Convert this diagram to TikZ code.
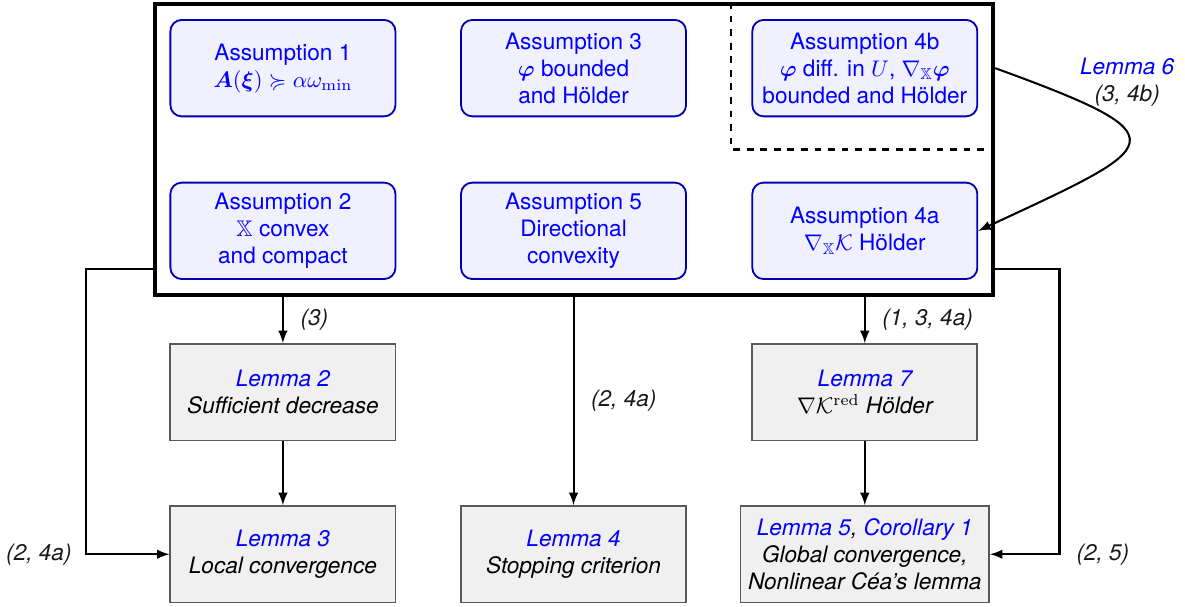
\documentclass[tikz,border=0pt]{standalone}
\usepackage{amsmath,amssymb}
\usepackage[no-math]{fontspec}
\setmainfont{TeX Gyre Heros}
\usetikzlibrary{fit,calc}

\tikzset{
  assum/.style={draw=blue!70!black, fill=blue!6, text=blue, thick, rounded corners=5pt,
    minimum width=3.5cm, minimum height=1.5cm, align=center},
  lemma/.style={draw=black!65, fill=black!6, thick, minimum width=3.5cm,
    minimum height=1.5cm, align=center, font=\itshape},
  dep/.style={font=\itshape, text=black!90},
  arr/.style={->, >=latex, line width=0.9pt},
}

\begin{document}
\begin{tikzpicture}
    \useasboundingbox[fill=white] (0, 0) rectangle (18.43, 9.44);

    % assumptions
    \node[assum] (a1) at (4.40, 8.38) {Assumption 1\\ $\boldsymbol{A}(\boldsymbol{\xi})\succcurlyeq\alpha\omega_{\min}$};
    \node[assum] (a3) at (8.92, 8.38) {Assumption 3\\ $\boldsymbol{\varphi}$ bounded\\ and Hölder};
    \node[assum] (a4b) at (13.45, 8.38) {Assumption 4b\\ $\boldsymbol{\varphi}$ diff. in $U$, $\nabla_{\mathbb{X}}\boldsymbol{\varphi}$\\ bounded and Hölder};
    \node[assum] (a2) at (4.40, 5.85) {Assumption 2\\ $\mathbb{X}$ convex\\ and compact};
    \node[assum] (a5) at (8.92, 5.85) {Assumption 5\\ Directional\\ convexity};
    \node[assum] (a4a) at (13.45, 5.85) {Assumption 4a\\ $\nabla_{\mathbb{X}}\mathcal{K}$ Hölder};

    \node[draw, line width=1.8pt, inner sep=6.6pt, fit=(a1)(a4b)(a2)(a4a)] (frame) {};
    \coordinate (dc) at ($(a4b.south west)!0.5!(a4a.north west) + (-0.31, 0)$);
    \draw[dashed, line width=0.9pt] (dc |- frame.north) |- (dc -| frame.east);

    % lemmas
    \node[lemma] (l2) at (4.40, 3.34) {\textcolor{blue}{Lemma 2}\\ Sufficient decrease};
    \node[lemma] (l3) at (4.40, 0.82) {\textcolor{blue}{Lemma 3}\\ Local convergence};
    \node[lemma] (l4) at (8.92, 0.82) {\textcolor{blue}{Lemma 4}\\ Stopping criterion};
    \node[lemma] (l7) at (13.45, 3.34) {\textcolor{blue}{Lemma 7}\\ $\nabla\mathcal{K}^{\mathrm{red}}$ Hölder};
    \node[lemma] (l5) at (13.45, 0.82) {\textcolor{blue}{Lemma 5}, \textcolor{blue}{Corollary 1}\\ Global convergence,\\ Nonlinear Céa's lemma};

    % dependencies
    \draw[arr] (frame.east |- a4b.east) to[out=-20, in=25, looseness=3.2] (a4a.east);
    \node[dep, align=center] (l6) at (17.53, 8.16) {\textcolor{blue}{Lemma 6}\\ (3, 4b)};

    \draw[arr] (frame.south -| l2.north) -- node[dep, right=4pt] (d3) {(3)} (l2.north);
    \draw[arr] (l2) -- (l3);
    \draw[arr] (frame.south -| l4.north) -- node[dep, right=4pt] (d24a) {(2, 4a)} (l4.north);
    \draw[arr] (frame.south -| l7.north) -- node[dep, right=4pt] (d134a) {(1, 3, 4a)} (l7.north);
    \draw[arr] (l7) -- (l5);

    \draw[arr] ([yshift=0.44cm]frame.south west) -- ++(-1.03, 0) coordinate (lc) |- (l3.west);
    \node[dep, left=3pt] (dl) at (lc |- l3.west) {(2, 4a)};
    \draw[arr] ([yshift=0.44cm]frame.south east) -- ++(1.0, 0) coordinate (rc) |- (l5.east);
    \node[dep, right=4pt] (dr) at (rc |- l5.east) {(2, 5)};
\end{tikzpicture}
\end{document}
